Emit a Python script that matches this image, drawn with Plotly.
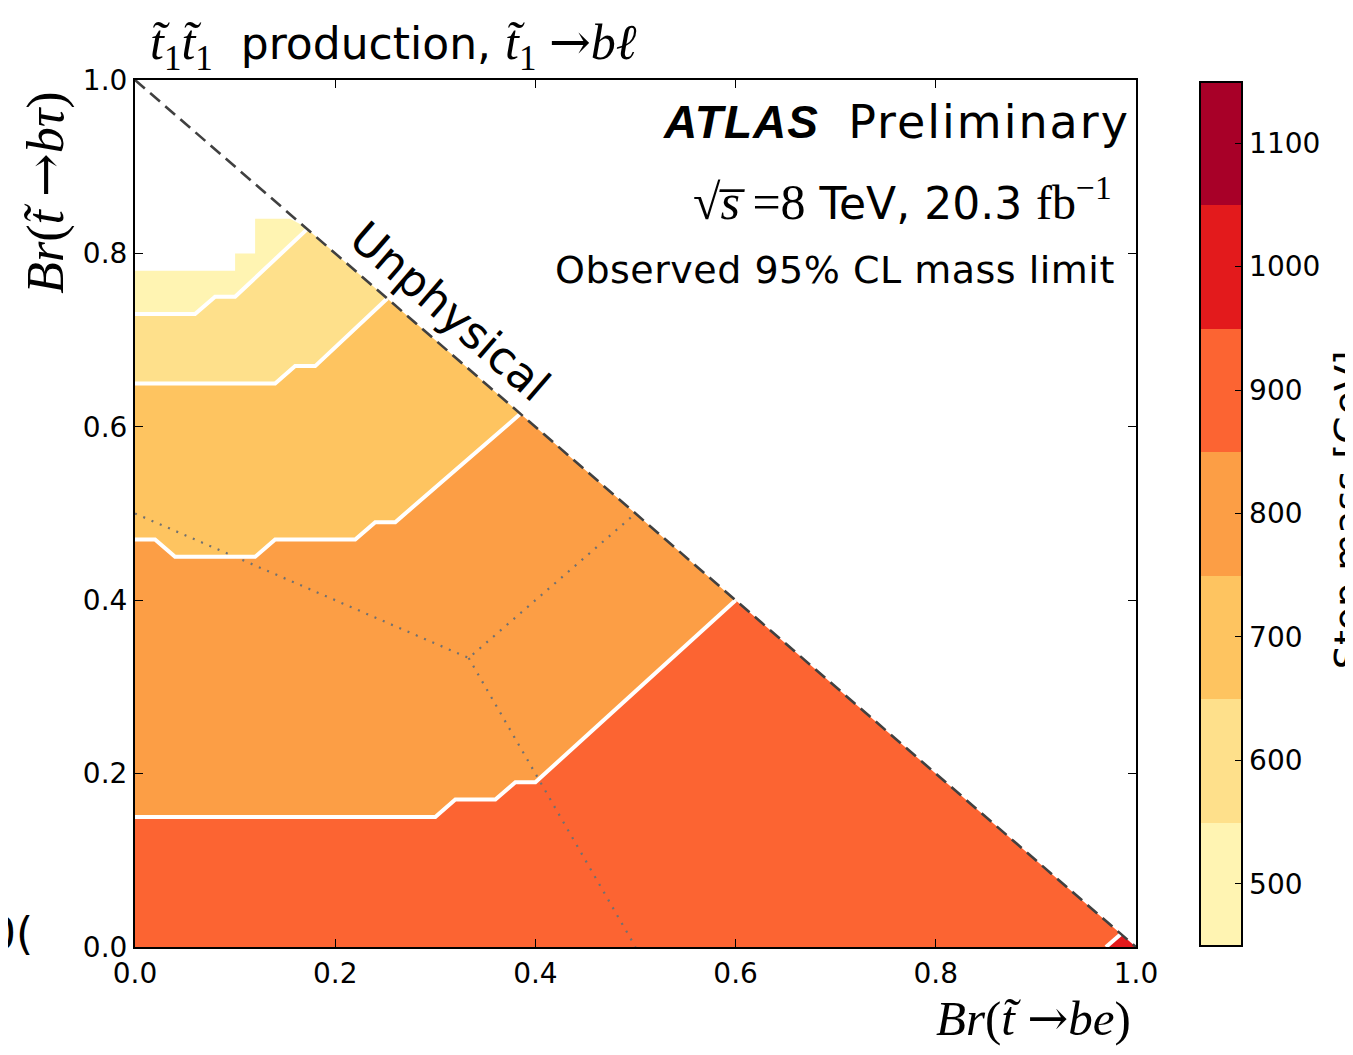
import plotly.graph_objects as go

# ---------------- data ----------------
# colour bands of the stop-mass limit [GeV]
LEVEL_EDGES = [450, 550, 650, 750, 850, 950, 1050, 1150]
LEVEL_TICKS = [500, 600, 700, 800, 900, 1000, 1100]
LEVEL_COLORS = ["#fff4b2", "#fee08b", "#fec460", "#fc9e45", "#fc6432", "#e31a1c", "#a80028"]

# contour boundaries in (Br(t->be), Br(t->b tau))
B_900_800_X = [0.00, 0.30, 0.32, 0.36, 0.38, 0.40, 0.600]
B_900_800_Y = [0.15, 0.15, 0.17, 0.17, 0.19, 0.19, 0.400]

B_800_700_X = [0.00, 0.02, 0.04, 0.12, 0.14, 0.22, 0.24, 0.26, 0.385]
B_800_700_Y = [0.47, 0.47, 0.45, 0.45, 0.47, 0.47, 0.49, 0.49, 0.615]

B_700_600_X = [0.00, 0.14, 0.16, 0.18, 0.252]
B_700_600_Y = [0.65, 0.65, 0.67, 0.67, 0.748]

B_600_500_X = [0.00, 0.06, 0.08, 0.10, 0.172]
B_600_500_Y = [0.73, 0.73, 0.75, 0.75, 0.828]

B_1000_900_X = [0.970, 0.985]
B_1000_900_Y = [0.000, 0.015]

TOP_EDGE_X = [0.00, 0.10, 0.10, 0.12, 0.12, 0.155, 0.168]
TOP_EDGE_Y = [0.78, 0.78, 0.80, 0.80, 0.84, 0.84, 0.832]

ORIGIN_X = [0.0]
ORIGIN_Y = [0.0]
CORNER_X = [1.0]
CORNER_Y = [0.0]

# kinematic limit and equal-branching guide lines
DIAG_X = [0.0, 1.0]
DIAG_Y = [1.0, 0.0]
GUIDE1_X = [0.0, 1 / 3, 0.5]
GUIDE1_Y = [0.5, 1 / 3, 0.5]
GUIDE2_X = [1 / 3, 0.5]
GUIDE2_Y = [1 / 3, 0.0]

X_TICKS = [0.0, 0.2, 0.4, 0.6, 0.8, 1.0]
Y_TICKS = [0.0, 0.2, 0.4, 0.6, 0.8, 1.0]

# ---------------- figure ----------------
fig = go.Figure()


def band(lx, ly, ux, uy):
    return lx + ux[::-1], ly + uy[::-1]


regions = [
    (band(ORIGIN_X + B_1000_900_X, ORIGIN_Y + B_1000_900_Y, B_900_800_X, B_900_800_Y), LEVEL_COLORS[4]),
    ((B_1000_900_X + CORNER_X, B_1000_900_Y + CORNER_Y), LEVEL_COLORS[5]),
    (band(B_900_800_X, B_900_800_Y, B_800_700_X, B_800_700_Y), LEVEL_COLORS[3]),
    (band(B_800_700_X, B_800_700_Y, B_700_600_X, B_700_600_Y), LEVEL_COLORS[2]),
    (band(B_700_600_X, B_700_600_Y, B_600_500_X, B_600_500_Y), LEVEL_COLORS[1]),
    (band(B_600_500_X, B_600_500_Y, TOP_EDGE_X, TOP_EDGE_Y), LEVEL_COLORS[0]),
]
for (xs, ys), col in regions:
    fig.add_trace(go.Scatter(x=xs, y=ys, mode="lines", fill="toself", fillcolor=col,
                             line=dict(width=0, color=col), hoverinfo="skip", showlegend=False))

# dotted guide lines
for gx, gy in [(GUIDE1_X, GUIDE1_Y), (GUIDE2_X, GUIDE2_Y)]:
    fig.add_trace(go.Scatter(x=gx, y=gy, mode="lines",
                             line=dict(color="#707070", width=2.2, dash="2px,7px"),
                             hoverinfo="skip", showlegend=False))

# white contour lines
for bx, by in [(B_900_800_X, B_900_800_Y), (B_800_700_X, B_800_700_Y),
               (B_700_600_X, B_700_600_Y), (B_600_500_X, B_600_500_Y),
               (B_1000_900_X, B_1000_900_Y)]:
    fig.add_trace(go.Scatter(x=bx, y=by, mode="lines",
                             line=dict(color="white", width=4),
                             hoverinfo="skip", showlegend=False))

# dashed unphysical boundary
fig.add_trace(go.Scatter(x=DIAG_X, y=DIAG_Y, mode="lines",
                         line=dict(color="#404040", width=2.6, dash="13px,7px"),
                         hoverinfo="skip", showlegend=False))

# colour bar host
n = len(LEVEL_COLORS)
cscale = []
for i, c in enumerate(LEVEL_COLORS):
    cscale.append([i / n, c])
    cscale.append([(i + 1) / n, c])
fig.add_trace(go.Scatter(
    x=[None] * len(LEVEL_TICKS), y=[None] * len(LEVEL_TICKS), mode="markers",
    marker=dict(color=LEVEL_TICKS, cmin=LEVEL_EDGES[0], cmax=LEVEL_EDGES[-1],
                colorscale=cscale, showscale=True,
                colorbar=dict(
                    x=1.064, xanchor="left", xpad=0, ypad=0,
                    y=0.5, yanchor="middle", len=0.997, lenmode="fraction",
                    thickness=42, outlinewidth=2, outlinecolor="black",
                    tickvals=LEVEL_TICKS, ticks="inside", ticklen=8, tickwidth=1,
                    tickcolor="black",
                    tickfont=dict(family="DejaVu Sans", size=28, color="black"),
                )),
    hoverinfo="skip", showlegend=False))

SERIF = "font-family:'Liberation Serif','DejaVu Serif',serif"
ARROW = "<span style=\"font-family:'DejaVu Serif'\">\u2192</span>"
TT = "<i>t\u0303</i>"

annotations = [
    dict(text=f"<span style=\"{SERIF};font-size:50px\">{TT}<sub>1</sub>{TT}<sub>1</sub></span>  production, "
              f"<span style=\"{SERIF};font-size:50px\">{TT}<sub>1</sub> {ARROW}<i>b\u2113</i></span>",
         x=0.013, y=1.040, xanchor="left", yanchor="middle",
         font=dict(family="DejaVu Sans", size=44, color="black")),
    dict(text="<b><i><span style=\"font-family:'Liberation Sans',Arial;letter-spacing:1px\">ATLAS</span></i></b>  "
              "<span style=\"letter-spacing:2px\">Preliminary</span>",
         x=0.996, y=0.952, xanchor="right", yanchor="middle",
         font=dict(family="DejaVu Sans", size=46, color="black")),
    dict(text=f"<span style=\"{SERIF};font-size:50px\">\u221a<i>s\u0305</i> =8</span> TeV, 20.3 "
              f"<span style=\"{SERIF};font-size:48px\">fb<sup>\u22121</sup></span>",
         x=0.978, y=0.862, xanchor="right", yanchor="middle",
         font=dict(family="DejaVu Sans", size=44, color="black")),
    dict(text="<span style=\"letter-spacing:0.5px\">Observed 95% CL mass limit</span>",
         x=0.981, y=0.781, xanchor="right", yanchor="middle",
         font=dict(family="DejaVu Sans", size=38, color="black")),
    dict(text="Unphysical", x=0.3147, y=0.733, xref="x", yref="y",
         xanchor="center", yanchor="middle", textangle=40.9,
         font=dict(family="DejaVu Sans", size=45, color="black")),
    dict(text=f"<span style=\"{SERIF}\"><i>Br</i>(<i>t\u0303</i> {ARROW}<i>be</i>)</span>",
         x=0.997, y=-0.0830, xanchor="right", yanchor="middle",
         font=dict(size=49, color="black")),
    dict(text=f"<span style=\"{SERIF}\"><i>Br</i>(<i>t\u0303</i> {ARROW}<i>b\u03c4</i>)</span>",
         x=-0.0899, y=0.870, xanchor="center", yanchor="middle", textangle=-90,
         font=dict(size=52, color="black")),
    dict(text="Stop mass [GeV]", x=1.188, y=0.504, xanchor="left", yanchor="middle",
         textangle=-90, font=dict(family="DejaVu Sans", size=38, color="black")),
    dict(text="0(", x=-0.149, y=0.016, xanchor="left", yanchor="middle",
         font=dict(family="DejaVu Sans", size=44, color="black")),
]
for a in annotations:
    a.setdefault("xref", "paper")
    a.setdefault("yref", "paper")
    a["showarrow"] = False
fig.update_layout(annotations=annotations)

axis_common = dict(range=[0, 1], showgrid=False, zeroline=False, showline=True,
                   linewidth=2, linecolor="black", mirror="ticks", ticks="inside",
                   ticklen=8, tickwidth=1, tickcolor="black", tickformat=".1f",
                   tickfont=dict(family="DejaVu Sans", size=28, color="black"))
fig.update_xaxes(tickvals=X_TICKS, **axis_common)
fig.update_yaxes(tickvals=Y_TICKS, **axis_common)

# page body adds an 8px margin; figure sized so it fits the window exactly
fig.update_layout(width=1345, height=1039,
                  margin=dict(l=127, r=217, t=72, b=100),
                  plot_bgcolor="white", paper_bgcolor="white")

fig.write_html("out.html")
